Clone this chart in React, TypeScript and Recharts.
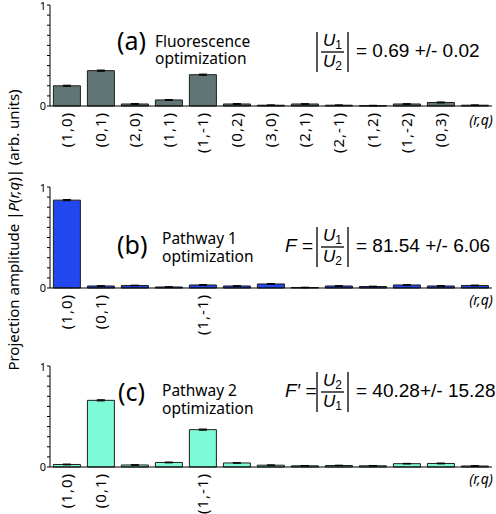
import React from "react";
import { BarChart, Bar, XAxis, YAxis, ErrorBar } from "recharts";

// (r,q) components, last bar has no label of its own
const categories = [
  "(1,0)", "(0,1)", "(2,0)", "(1,1)", "(1,-1)", "(0,2)", "(3,0)",
  "(2,1)", "(2,-1)", "(1,2)", "(1,-2)", "(0,3)", "",
];

const fluorescence = [0.2, 0.35, 0.02, 0.06, 0.31, 0.02, 0.008, 0.02, 0.008, 0.004, 0.02, 0.035, 0.008];
const fluorescenceErr = [0.006, 0.006, 0.004, 0.004, 0.006, 0.004, 0.003, 0.003, 0.003, 0.003, 0.003, 0.005, 0.003];

const pathway1 = [0.87, 0.02, 0.025, 0.01, 0.03, 0.02, 0.04, 0.005, 0.02, 0.015, 0.03, 0.02, 0.025];
const pathway1Err = [0.006, 0.003, 0.003, 0.003, 0.004, 0.003, 0.004, 0.003, 0.003, 0.003, 0.003, 0.003, 0.004];

const pathway2 = [0.025, 0.66, 0.02, 0.045, 0.37, 0.04, 0.018, 0.012, 0.015, 0.012, 0.033, 0.035, 0.01];
const pathway2Err = [0.004, 0.006, 0.003, 0.004, 0.006, 0.003, 0.003, 0.003, 0.003, 0.003, 0.003, 0.004, 0.003];

const yTicks = [0, 0.1, 0.2, 0.3, 0.4, 0.5, 0.6, 0.7, 0.8, 0.9, 1];
const yTickLabels = [0, 1];

const labelsAll = categories.filter((c) => c !== "");
const labelsFew = ["(1,0)", "(0,1)", "(1,-1)"];

const sans = "'Noto Sans', 'Open Sans', sans-serif";
const arial = "'Liberation Sans', Arial, sans-serif";

const YTick = (props: any) => {
  const { x, y, payload } = props;
  if (!yTickLabels.includes(payload.value)) return <g />;
  return (
    <text x={x} y={y} dy={payload.value === 1 ? 5 : 4} textAnchor="end" fontSize={11} fill="#000" fontFamily={sans}>
      {payload.value}
    </text>
  );
};

const makeXTick = (shown: string[]) => (props: any) => {
  const { x, y, payload } = props;
  if (!shown.includes(payload.value)) return <g />;
  return (
    <text
      x={x}
      y={y}
      dy={5}
      textAnchor="end"
      transform={`rotate(-90 ${x} ${y})`}
      fontSize={15}
      letterSpacing={1}
      fill="#000"
      fontFamily={sans}
    >
      {payload.value}
    </text>
  );
};

// plot area: top margin 10, value 0 sits 106px below the chart's top offset
function Panel({ top, height, values, errors, fill, shown }: any) {
  const rows = categories.map((c, i) => ({ cat: c, value: values[i], err: errors[i] }));
  return (
    <div style={{ position: "absolute", left: 0, top }}>
      <BarChart
        width={496}
        height={height}
        data={rows}
        margin={{ top: 10, right: 4, bottom: 0, left: 0 }}
        barCategoryGap="10%"
      >
        <YAxis
          width={50}
          domain={[0, 1]}
          ticks={yTicks}
          interval={0}
          tickSize={3}
          tickMargin={1}
          tick={<YTick />}
          axisLine={{ stroke: "#000" }}
          tickLine={{ stroke: "#000" }}
        />
        <XAxis
          dataKey="cat"
          height={height - 111}
          interval={0}
          tickLine={false}
          tickSize={0}
          tickMargin={6}
          axisLine={{ stroke: "#000", strokeWidth: 1.2 }}
          tick={makeXTick(shown)}
        />
        <Bar dataKey="value" fill={fill} stroke="#1e1e1e" strokeWidth={1} isAnimationActive={false}>
          <ErrorBar dataKey="err" width={4} stroke="#000" strokeWidth={1} direction="y" />
        </Bar>
      </BarChart>
    </div>
  );
}

function Ratio({ base, num, den, prefix, value }: any) {
  const u = (sub: string, y: number) => (
    <text x={332.5} y={y} textAnchor="middle" fontFamily={arial} fontSize={17} fill="#000">
      <tspan fontStyle="italic">U</tspan>
      <tspan fontSize={12} dy={3}>{sub}</tspan>
    </text>
  );
  return (
    <g>
      {prefix && (
        <text x={285} y={base} fontFamily={arial} fontSize={19} fill="#000">
          <tspan fontStyle="italic">{prefix}</tspan> =
        </text>
      )}
      <line x1={317} x2={317} y1={base - 25} y2={base + 15} stroke="#000" strokeWidth={1.3} />
      <line x1={348} x2={348} y1={base - 25} y2={base + 15} stroke="#000" strokeWidth={1.3} />
      <line x1={321} x2={344} y1={base - 5} y2={base - 5} stroke="#000" strokeWidth={1.3} />
      {u(num, base - 11)}
      {u(den, base + 10)}
      <text x={356} y={base} fontFamily={arial} fontSize={19} fill="#000">
        {value}
      </text>
    </g>
  );
}

function Title({ tag, x, tagX, line1, line2, base1, base2, tagBase }: any) {
  return (
    <g fontFamily={sans} fill="#000">
      <text x={tagX} y={tagBase} fontSize={25}>{tag}</text>
      <text x={x} y={base1} fontSize={15.5}>{line1}</text>
      <text x={x} y={base2} fontSize={15.5}>{line2}</text>
    </g>
  );
}

export default function App() {
  return (
    <div style={{ position: "absolute", left: 0, top: 0, width: 496, height: 514, overflow: "hidden", background: "#fff" }}>
      <Panel top={-5} height={175} values={fluorescence} errors={fluorescenceErr} fill="#607676" shown={labelsAll} />
      <Panel top={177} height={175} values={pathway1} errors={pathway1Err} fill="#2347ee" shown={labelsFew} />
      <Panel top={356} height={158} values={pathway2} errors={pathway2Err} fill="#7dfbd6" shown={labelsFew} />
      <svg width={496} height={514} style={{ position: "absolute", left: 0, top: 0, pointerEvents: "none" }}>
        <text
          x={19}
          y={230}
          transform="rotate(-90 19 230)"
          textAnchor="middle"
          fontFamily={sans}
          fontSize={15}
          fill="#000"
        >
          Projection amplitude |<tspan fontStyle="italic">P</tspan>(<tspan fontStyle="italic">r,q</tspan>)| (arb. units)
        </text>

        <Title tag="(a)" tagX={117} tagBase={50} x={155} line1="Fluorescence" line2="optimization" base1={47} base2={64} />
        <Title tag="(b)" tagX={117} tagBase={254} x={162} line1="Pathway 1" line2="optimization" base1={244} base2={262} />
        <Title tag="(c)" tagX={118} tagBase={401} x={162} line1="Pathway 2" line2="optimization" base1={396} base2={414} />

        <Ratio base={57} num="1" den="2" value="= 0.69 +/- 0.02" />
        <Ratio base={252} num="1" den="2" prefix="F" value="= 81.54 +/- 6.06" />
        <Ratio base={397} num="2" den="1" prefix="F′" value="= 40.28+/- 15.28" />

        {[125, 305, 484].map((y) => (
          <text key={y} x={481} y={y} textAnchor="middle" fontFamily={sans} fontSize={14} fontStyle="italic" fill="#000">
            (r,q)
          </text>
        ))}
      </svg>
    </div>
  );
}
